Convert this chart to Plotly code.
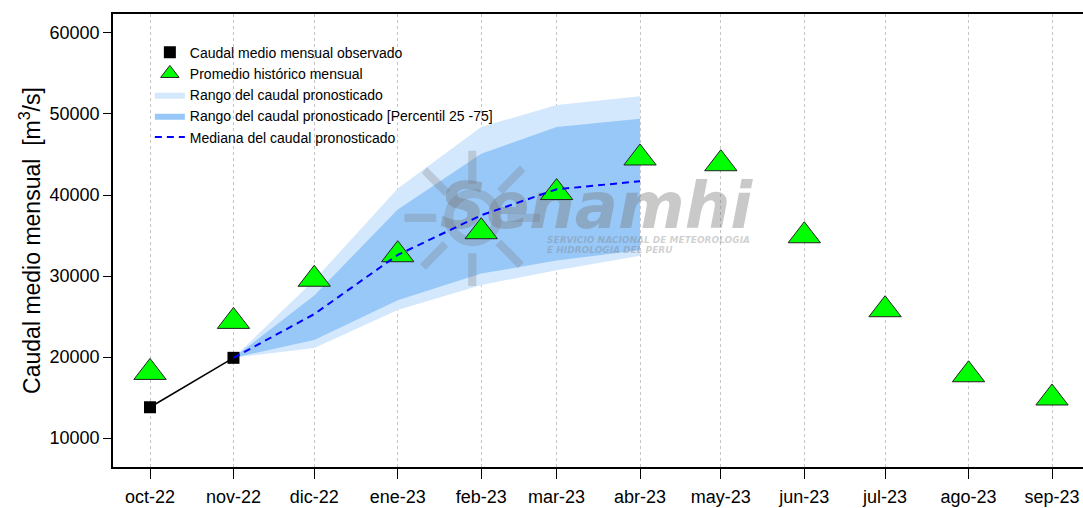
import plotly.graph_objects as go
import pandas as pd

# ---------------- data ----------------
months = ["2022-10-01", "2022-11-01", "2022-12-01", "2023-01-01", "2023-02-01", "2023-03-01",
          "2023-04-01", "2023-05-01", "2023-06-01", "2023-07-01", "2023-08-01", "2023-09-01"]
month_labels = ["oct-22", "nov-22", "dic-22", "ene-23", "feb-23", "mar-23",
                "abr-23", "may-23", "jun-23", "jul-23", "ago-23", "sep-23"]

obs_months = months[:2]
obs_values = [13800, 19900]

hist_values = [18100, 24400, 29600, 32630, 35470, 40300, 44570, 43860, 34970, 25840, 17810, 14940]

fc_months = months[1:7]
fc_min = [19900, 21100, 25800, 28900, 30700, 32500]
fc_p25 = [19900, 22100, 27000, 30300, 31900, 33200]
fc_median = [19900, 25300, 32600, 37500, 40700, 41700]
fc_p75 = [19900, 27600, 38200, 45100, 48400, 49400]
fc_max = [19900, 29500, 40800, 48400, 51100, 52200]

y_ticks = [10000, 20000, 30000, 40000, 50000, 60000]
y_tick_labels = ["10000", "20000", "30000", "40000", "50000", "60000"]

# ---------------- layout geometry ----------------
W, H = 1083, 508
ML, MR, MT, MB = 113, 0, 14, 41
x0 = pd.Timestamp(months[0]) - pd.Timedelta(days=13.74)
x1 = pd.Timestamp(months[-1]) + pd.Timedelta(days=11.5)
y0, y1 = 6424, 62343
FONT = "Liberation Sans, Arial, sans-serif"


def px_to_data(px, py):
    fx = (px - ML) / (W - ML - MR)
    fy = (H - MB - py) / (H - MT - MB)
    return x0 + (x1 - x0) * fx, y0 + (y1 - y0) * fy


fig = go.Figure()

# forecast ranges
fig.add_trace(go.Scatter(
    x=fc_months + fc_months[::-1], y=fc_max + fc_min[::-1],
    fill="toself", fillcolor="#D4E8FD", line=dict(width=0, color="#D4E8FD"),
    mode="lines", name="Rango del caudal pronosticado", legendrank=3, hoverinfo="skip"))
fig.add_trace(go.Scatter(
    x=fc_months + fc_months[::-1], y=fc_p75 + fc_p25[::-1],
    fill="toself", fillcolor="#98C8F8", line=dict(width=0, color="#98C8F8"),
    mode="lines", name="Rango del caudal pronosticado [Percentil 25 -75]", legendrank=4, hoverinfo="skip"))

# watermark logo (decoration)
lx, ly = px_to_data(472, 240)
fig.add_trace(go.Scatter(x=[lx], y=[ly], mode="text", text=["<b>☼</b>"], showlegend=False, hoverinfo="skip",
                         textfont=dict(size=185, color="rgba(120,120,120,0.28)", family="DejaVu Sans")))
sx, sy = px_to_data(596, 212)
fig.add_trace(go.Scatter(x=[sx], y=[sy], mode="text", text=["<b><i>Senamhi</i></b>"], showlegend=False,
                         hoverinfo="skip",
                         textfont=dict(size=64, color="rgba(120,120,120,0.40)", family="DejaVu Sans")))
t1x, t1y = px_to_data(547, 241)
t2x, t2y = px_to_data(547, 251)
fig.add_trace(go.Scatter(x=[t1x, t2x], y=[t1y, t2y], mode="text", textposition="middle right",
                         text=["<b><i>SERVICIO NACIONAL DE METEOROLOGIA</i></b>",
                               "<b><i>E HIDROLOGIA DEL PERU</i></b>"],
                         showlegend=False, hoverinfo="skip",
                         textfont=dict(size=9, color="rgba(120,120,120,0.35)", family="DejaVu Sans")))

# historical average
fig.add_trace(go.Scatter(
    x=months, y=hist_values, mode="markers", name="Promedio histórico mensual", legendrank=2,
    marker=dict(symbol="triangle-up", size=28, color="#00FF00", line=dict(color="#222222", width=1))))

# observed
fig.add_trace(go.Scatter(
    x=obs_months, y=obs_values, mode="lines", showlegend=False, hoverinfo="skip",
    line=dict(color="black", width=1.5)))
fig.add_trace(go.Scatter(
    x=obs_months, y=obs_values, mode="markers", name="Caudal medio mensual observado", legendrank=1,
    marker=dict(symbol="square", size=12, color="black")))

# median
fig.add_trace(go.Scatter(
    x=fc_months, y=fc_median, mode="lines", name="Mediana del caudal pronosticado", legendrank=5,
    line=dict(color="#0000FF", width=2, dash="7px,5px")))

fig.update_layout(
    width=W, height=H,
    margin=dict(l=ML, r=MR, t=MT, b=MB, autoexpand=False),
    paper_bgcolor="white", plot_bgcolor="white",
    font=dict(family=FONT, color="black", size=18),
    showlegend=True,
    legend=dict(x=0.038, y=0.950, xanchor="left", yanchor="top", bgcolor="rgba(0,0,0,0)",
                font=dict(size=14, family=FONT), tracegroupgap=0, itemwidth=30),
    xaxis=dict(type="date", range=[x0, x1], tickvals=months, ticktext=month_labels,
               showgrid=True, gridcolor="#C4C4C4", griddash="dot", gridwidth=1,
               showline=True, linecolor="black", linewidth=1.5, mirror=True,
               ticks="outside", ticklen=10, tickcolor="black", tickwidth=1,
               ticklabelstandoff=3, tickfont=dict(size=18), zeroline=False, automargin=False),
    yaxis=dict(range=[y0, y1], tickvals=y_ticks, ticktext=y_tick_labels, showgrid=False,
               showline=True, linecolor="black", linewidth=1.5, mirror=False,
               ticks="outside", ticklen=8, tickcolor="black", tickwidth=1,
               tickfont=dict(size=18), zeroline=False, automargin=False,
               title=dict(text="Caudal medio mensual  [m<sup>3</sup>/s]", font=dict(size=23), standoff=3)),
)

fig.write_html("out.html", config={"displayModeBar": False},
               post_script="document.body.style.margin='0px';")
